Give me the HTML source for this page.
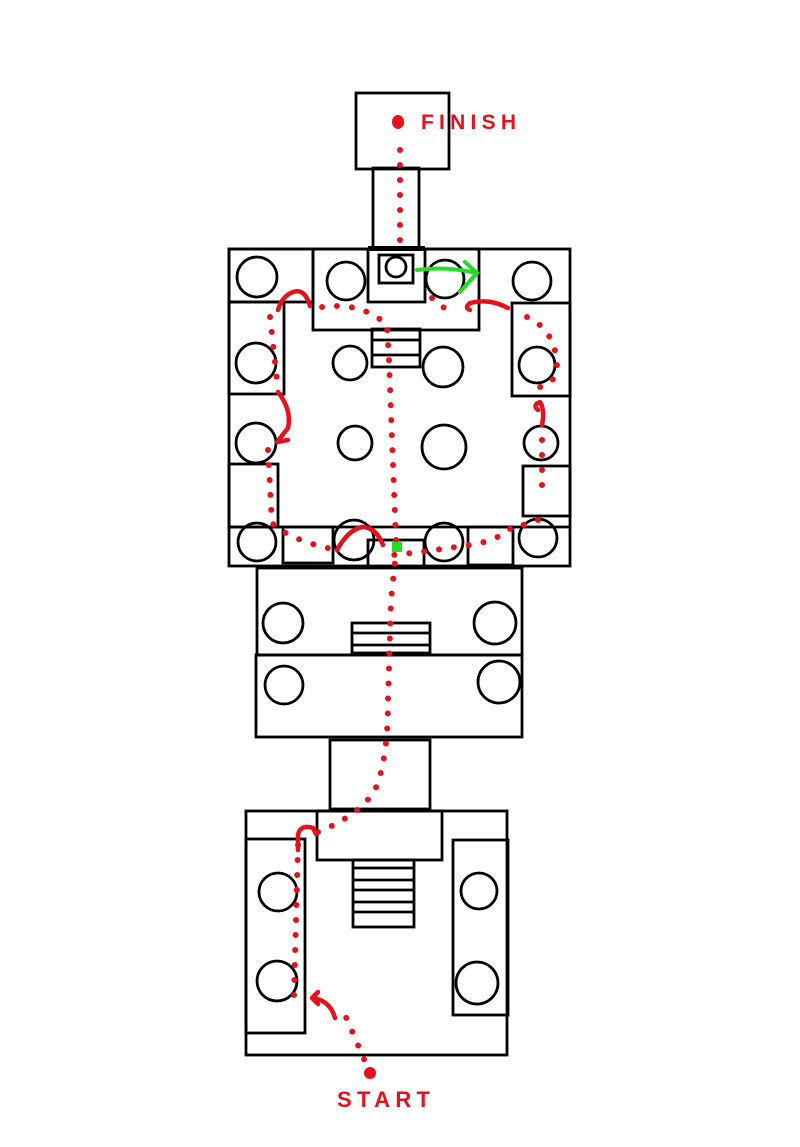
<!DOCTYPE html>
<html><head><meta charset="utf-8"><style>html,body{margin:0;padding:0;background:#fff}svg{display:block}</style></head>
<body>
<svg width="800" height="1147" viewBox="0 0 800 1147" xmlns="http://www.w3.org/2000/svg">
<g fill="none" stroke="#000" stroke-width="2.8">
<rect x="356" y="93" width="93" height="76"/>
<rect x="373" y="168" width="46" height="80"/>
<rect x="229" y="249" width="341" height="317"/>
<rect x="229" y="249" width="84" height="53"/>
<rect x="313" y="249" width="166" height="81"/>
<rect x="368" y="249" width="57" height="53"/>
<rect x="379" y="255" width="34" height="28"/>
<circle cx="396" cy="267" r="10"/>
<circle cx="257" cy="277" r="20"/>
<circle cx="346" cy="281" r="19"/>
<circle cx="445" cy="279" r="19"/>
<circle cx="532" cy="281" r="19"/>
<rect x="229" y="302" width="55" height="92"/>
<circle cx="256" cy="363" r="20"/>
<circle cx="256" cy="443" r="20"/>
<rect x="229" y="464" width="49" height="63"/>
<line x1="229" y1="527" x2="570" y2="527"/>
<circle cx="257" cy="542" r="19"/>
<rect x="283" y="527" width="50" height="36"/>
<circle cx="354" cy="540" r="20"/>
<rect x="368" y="540" width="56" height="27"/>
<circle cx="444" cy="542" r="19"/>
<rect x="468" y="527" width="45" height="38"/>
<circle cx="538" cy="538" r="19"/>
<rect x="512" y="303" width="58" height="93"/>
<circle cx="537" cy="365" r="18"/>
<circle cx="541" cy="443" r="17"/>
<rect x="523" y="466" width="47" height="50"/>
<rect x="372" y="329" width="48" height="38"/>
<line x1="372" y1="340" x2="420" y2="340"/><line x1="372" y1="355" x2="420" y2="355"/>
<circle cx="350" cy="363" r="17"/>
<circle cx="443" cy="367" r="20"/>
<circle cx="355" cy="443" r="17"/>
<circle cx="444" cy="447" r="22"/>
<rect x="257" y="568" width="265" height="87"/>
<rect x="256" y="655" width="266" height="82"/>
<circle cx="283" cy="623" r="20"/>
<circle cx="495" cy="623" r="21"/>
<circle cx="284" cy="685" r="19"/>
<circle cx="499" cy="682" r="21"/>
<rect x="352" y="623" width="78" height="30"/>
<line x1="352" y1="633" x2="430" y2="633"/><line x1="352" y1="645" x2="430" y2="645"/>
<rect x="330" y="740" width="100" height="69"/>
<rect x="246" y="811" width="261" height="244"/>
<rect x="317" y="811" width="125" height="49"/>
<rect x="353" y="860" width="61" height="67"/>
<line x1="353" y1="868" x2="414" y2="868"/><line x1="353" y1="880" x2="414" y2="880"/>
<line x1="353" y1="890" x2="414" y2="890"/><line x1="353" y1="902" x2="414" y2="902"/>
<line x1="353" y1="912" x2="414" y2="912"/>
<rect x="246" y="839" width="59" height="194"/>
<circle cx="278" cy="892" r="19"/>
<circle cx="277" cy="981" r="20"/>
<rect x="453" y="840" width="55" height="175"/>
<circle cx="479" cy="891" r="18"/>
<circle cx="477" cy="983" r="21"/>
</g>
<rect x="368" y="246" width="57" height="5" fill="#000"/>
<g fill="none" stroke="#e8101a" stroke-width="6" stroke-linecap="round" stroke-dasharray="0 15">
<path d="M370 1073 L345 1015"/>
<path d="M294 995 L298 845"/>
<path d="M318 832 Q360 815 375 790 Q388 760 388 700 L391 600 L396 552"/>
<path d="M396 540 L392 440 L389 360 L387 325 Q360 300 316 308"/>
<path d="M432 298 Q440 308 450 309"/>
<path d="M527 317 Q556 330 557 367 Q556 383 540 387"/>
<path d="M542 440 L542 500"/>
<path d="M538 520 Q520 527 513 526 Q500 540 470 545 L420 552 L393 555"/>
<path d="M270 317 L277 380"/>
<path d="M268 450 L272 523 Q290 540 332 549"/>
<path d="M400 240 L400 145"/>
</g>
<g fill="none" stroke="#e8101a" stroke-width="4.5" stroke-linecap="round" stroke-linejoin="round">
<path d="M335 1018 Q330 1000 312 998 M312 998 L318 992 M312 998 L318 1004"/>
<path d="M298 850 L298 835 Q300 824 313 828 L316 834"/>
<path d="M310 306 Q305 288 293 292 Q282 296 278 310"/>
<path d="M508 308 Q490 298 470 303 Q464 308 470 310"/>
<path d="M538 410 Q532 405 540 402 Q545 410 542 425"/>
<path d="M278 392 Q292 410 288 428 L277 442 L288 440"/>
<path d="M337 550 Q348 530 362 527 Q376 527 383 545"/>
</g>
<ellipse cx="398" cy="122" rx="6" ry="7" fill="#e8101a"/>
<circle cx="370" cy="1073" r="6" fill="#e8101a"/>
<rect x="392" y="542" width="10" height="10" fill="#22dd22"/>
<g fill="none" stroke="#22dd22" stroke-width="4" stroke-linecap="round">
<path d="M417 270 Q445 266 477 273"/>
<path d="M465 262 L477 273 L460 292"/>
</g>
<text x="421" y="129" font-family="Liberation Sans, sans-serif" font-weight="bold" font-size="21" fill="#e8101a" textLength="95" lengthAdjust="spacing">FINISH</text>
<text x="337" y="1107" font-family="Liberation Sans, sans-serif" font-weight="bold" font-size="22" fill="#e8101a" textLength="93" lengthAdjust="spacing">START</text>
</svg>
</body></html>
